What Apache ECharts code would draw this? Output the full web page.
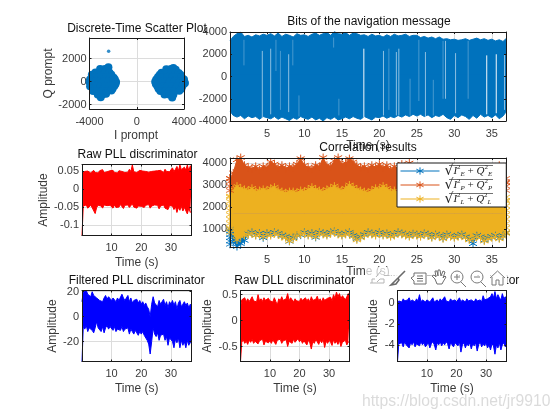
<!DOCTYPE html>
<html><head><meta charset="utf-8">
<style>html,body{margin:0;padding:0;background:#fff}#c{width:560px;height:420px}</style>
<script src="https://cdn.jsdelivr.net/npm/echarts@6/dist/echarts.min.js"></script>
</head><body><div id="c"></div>
<script>
const FONT='"Liberation Sans",Arial,sans-serif';
const tWide=[0.07,0.5,1,1.5,2,2.5,3,3.5,4,4.5,
5,5.5,6,6.5,7,7.5,8,8.5,9,9.5,
10,10.5,11,11.5,12,12.5,13,13.5,14,14.5,
15,15.5,16,16.5,17,17.5,18,18.5,19,19.5,
20,20.5,21,21.5,22,22.5,23,23.5,24,24.5,
25,25.5,26,26.5,27,27.5,28,28.5,29,29.5,
30,30.5,31,31.5,32,32.5,33,33.5,34,34.5,
35,35.5,36,36.5,36.9];

const bitsUp=[3200,3600,3850,4000,3600,3700,3550,3750,3650,3800,
3700,3850,3650,3900,3600,3800,3700,3550,3850,3700,
3750,3600,3800,3900,3700,3850,3950,3700,4050,3850,
3800,3950,3700,3900,3850,3700,3750,3600,3800,3650,
3700,3550,3750,3600,3800,3650,3700,3800,3600,3700,
3700,3500,3600,3450,3550,3400,3550,3350,3400,3300,
3350,3250,3300,3400,3250,3350,3450,3300,3400,3250,
3350,3200,3300,3150,3400];
const bitsLo=[-3100,-3500,-3650,-3500,-3800,-3550,-3700,-3600,-3850,-3600,
-3700,-3800,-3600,-3850,-3650,-3800,-3950,-3700,-3850,-3600,
-3750,-3850,-3650,-3900,-3750,-4000,-3700,-3850,-3650,-3900,
-3800,-3650,-3800,-3600,-3750,-3850,-3600,-3750,-3900,-3650,
-3700,-3550,-3750,-3600,-3700,-3500,-3650,-3450,-3600,-3400,
-3550,-3400,-3600,-3450,-3700,-3500,-3600,-3400,-3700,-3850,
-3500,-3700,-3450,-3600,-3850,-3500,-3750,-3400,-3650,-3500,
-3700,-3450,-3800,-3550,-3200];
// light vertical gaps in the bit trace: time, top, bottom
const gapStrong=[[17.93,2500,-3700],[34.33,1900,-3400],[35.6,2000,-3300]];
const gapLight=[[4.38,2300,-3800],[5.5,2500,-3400],[7.9,2000,-3200],[20.55,2300,-3500],[22.27,2200,-3500],[22.6,2500,-3500],[26.15,2200,-3600],[28.83,3200,-2000],[30.17,2100,-3300],[36.7,2000,-3000]];
const gapFaint=[[1.93,3300,1000],[6.2,3300,500],[6.8,2300,-3000],[8.45,3300,1000],[9.27,-1700,-3600],[13.9,3500,2600],[14.6,-2000,-3500],[21.27,2500,-3000],[24.1,-200,-3500],[25.27,3300,-2200],[27.2,-300,-3500],[28.5,3200,-2000],[31.85,3200,-2000]];

const orangeUp=[3300,3550,4150,4250,3900,3800,3750,3850,3700,3850,
3800,4050,3950,3800,3900,3750,3850,3800,3950,4200,
3900,3800,3750,3900,3850,4250,3900,3850,4100,4250,
3950,4000,4200,4050,3900,3800,3850,3750,3900,3800,
3950,3800,3900,3700,3850,3750,3950,3800,4000,3750,
3700,3650,3700,3600,3650,3550,3600,3500,3600,3550,
3600,3500,3550,3600,3500,3550,3650,3550,3600,3500,
3700,3800,3900,3650,3100];
const yellowUp=[2500,2800,2950,2850,2800,2750,2850,2700,2750,2800,
2750,2850,2900,2750,2700,2650,2700,2700,2650,2750,
2700,2800,2900,2800,2750,2700,2800,2850,2950,2800,
2750,2850,3000,2900,2800,2750,2700,2650,2750,2850,
2800,2950,2850,2700,2750,2650,2600,2700,2650,2600,
2550,2600,2500,2550,2500,2450,2550,2500,2450,2500,
2450,2500,2550,2450,2400,2500,2450,2500,2400,2450,
2500,2450,2550,2500,2300];
const yellowLo=[1000,750,500,650,700,750,800,700,750,650,
750,700,800,750,650,600,450,550,700,750,
800,700,750,650,800,750,700,800,850,750,
700,750,800,650,500,600,700,800,750,700,
800,700,750,650,700,800,750,700,650,750,
700,650,750,700,600,700,650,550,700,650,
600,650,700,600,500,550,650,600,450,550,
600,650,550,650,800];
const blueLo=[1000,430,200,330,480,780,840,720,800,600,
800,760,840,790,700,650,440,600,700,720,
840,740,800,620,840,800,750,840,880,790,
740,790,840,700,560,640,740,840,790,740,
840,740,790,690,740,840,790,740,690,780,
740,690,790,740,640,740,690,590,740,690,
640,690,740,640,540,330,690,640,490,590,
640,690,590,690,820];
// start-of-trace and end-of-trace samples spreading past the plot frame
const edgeTimes=[0.07,36.9];
const edgeBlue=[300,450,600,750,900];
const edgeOrange=[2750,2950,3150,3300];
const edgeYellow=[850,1050,1250,1450,1650,1850,2050,2250,2450];

const pllUp=[.048,.052,.05,.047,.051,.049,.046,.05,.053,.047,
.05,.046,.052,.048,.055,.047,.051,.049,.046,.052,
.049,.053,.047,.05,.046,.052,.048,.05,.054,.047,
.051,.048,.056,.05,.068,.049,.052,.047,.05,.053,
.048,.051,.047,.05,.054,.048,.052,.05,.046,.051,
.049,.052,.048,.053,.05,.047,.056,.05,.054,.049,
.052,.06,.05,.056,.064,.052,.068,.055,.058,.062,
.054,.068,.052,.066,.058];
const pllLo=[-.128,-.046,-.05,-.043,-.052,-.047,-.044,-.051,-.048,-.067,
-.05,-.044,-.049,-.046,-.052,-.043,-.048,-.045,-.05,-.044,
-.047,-.052,-.043,-.05,-.045,-.049,-.042,-.047,-.053,-.044,
-.048,-.043,-.05,-.045,-.04,-.049,-.044,-.052,-.046,-.041,
-.047,-.043,-.05,-.044,-.048,-.042,-.052,-.046,-.05,-.043,
-.048,-.044,-.054,-.046,-.05,-.043,-.052,-.047,-.056,-.045,
-.05,-.046,-.056,-.048,-.064,-.05,-.058,-.047,-.06,-.05,
-.055,-.068,-.052,-.064,-.06];
const fpllUp=[12,20,19,21,18,19,16,20,17,18,
15,16,13,14,12,15,17,14,16,15,
13,15,14,12,15,13,14,18,15,13,
14,17,12,15,11,13,12,14,11,13,
10,12,9,11,8,6,0,10,16,11,
12,8,13,10,11,14,9,12,7,12,
10,13,9,12,6,11,13,8,10,12,
9,11,7,10,8];
const fpllLo=[-36,-8,-10,-7,-12,-9,-8,-11,-13,-9,
-4,-9,-10,-12,-8,-13,-9,-7,-10,-8,
-9,-11,-8,-12,-10,-9,-11,-8,-12,-10,
-11,-9,-14,-10,-12,-14,-11,-13,-15,-12,
-14,-12,-15,-14,-19,-22,-30,-20,-9,-14,
-16,-13,-19,-15,-16,-14,-19,-16,-23,-17,
-16,-20,-25,-18,-21,-17,-25,-19,-23,-20,
-25,-19,-23,-20,-22];
const dllUp=[.25,.4,.38,.44,.36,.42,.37,.41,.46,.38,
.4,.36,.5,.38,.42,.37,.44,.39,.36,.43,
.38,.41,.36,.44,.37,.3,.42,.38,.46,.39,
.36,.42,.52,.38,.44,.4,.36,.42,.38,.41,
.37,.43,.39,.36,.44,.38,.42,.36,.46,.39,
.37,.41,.47,.38,.42,.36,.44,.39,.37,.43,
.4,.45,.38,.5,.43,.55,.46,.52,.42,.48,
.5,.4,.46,.52,.48];
const dllLo=[-.79,-.42,-.37,-.44,-.4,-.46,-.38,-.42,-.36,-.44,
-.4,-.37,-.45,-.39,-.42,-.36,-.47,-.4,-.38,-.43,
-.39,-.44,-.37,-.42,-.46,-.38,-.41,-.36,-.44,-.39,
-.42,-.37,-.5,-.4,-.38,-.44,-.36,-.42,-.39,-.35,
-.41,-.37,-.44,-.39,-.42,-.47,-.38,-.43,-.55,-.4,
-.44,-.37,-.41,-.46,-.38,-.43,-.36,-.52,-.4,-.44,
-.38,-.42,-.48,-.37,-.44,-.4,-.46,-.38,-.5,-.42,
-.44,-.38,-.47,-.41,-.43];
const fdllUp=[-.3,.2,.3,.1,.4,.2,.1,.3,.5,.1,
.3,.2,.1,.4,.2,.8,.1,.3,.2,.1,
.3,.4,.1,.2,.5,.1,.2,.3,.1,.4,
.2,.1,.6,.2,.3,.1,.4,.2,.1,.3,
.1,.2,.5,.1,.3,.2,.1,.4,.2,.1,
.3,.2,.1,.4,.2,.1,.3,.1,.7,.3,
.2,.4,.3,.6,.9,.5,1.1,.4,.8,.5,
.3,.9,.4,.6,.2];
const fdllLo=[-5.6,-3.9,-4,-3.8,-4.2,-3.7,-4,-3.9,-4.3,-3.8,
-4,-3.7,-4.2,-3.9,-3.8,-4.1,-3.7,-4,-3.8,-4.2,
-4,-3.8,-4.3,-3.9,-3.7,-4,-4.5,-3.8,-4,-3.7,
-4.1,-3.8,-4,-3.7,-3.9,-4.4,-3.8,-4,-4.2,-3.8,
-3.9,-4.1,-3.7,-4.7,-4,-3.8,-4.3,-3.9,-4.1,-3.8,
-4.4,-3.9,-4.1,-3.8,-4.6,-4,-3.7,-4.2,-3.9,-4.1,
-3.8,-4.3,-4,-4.5,-3.9,-4.1,-4.9,-4,-4.3,-3.8,
-4.5,-4,-3.8,-4.2,-3.9];

const scatterLeft=[[-3100,1100],[-2700,1100],[-2500,1050],[-2400,1250],
[-3500,800],[-3100,800],[-2700,800],[-2300,780],
[-3800,600],[-2150,600],
[-3800,400],[-3400,400],[-3000,400],[-2600,400],[-2200,420],[-1950,350],
[-3950,200],[-1850,200],
[-4000,0],[-3600,0],[-3200,0],[-2800,0],[-2400,0],[-2000,0],[-1750,-20],
[-3900,-200],[-1800,-200],
[-3950,-400],[-3500,-400],[-3100,-400],[-2700,-400],[-2300,-400],[-1900,-380],
[-3650,-600],[-2050,-600],
[-3700,-800],[-3300,-800],[-2900,-800],[-2500,-800],[-2150,-760],
[-3300,-1100],[-2900,-1100],[-2600,-1050],[-3050,-1350]];
const scatterRight=[[2500,1080],[2900,1100],[3100,1200],[3300,1050],
[2100,780],[2500,800],[2900,800],[3300,800],[3550,760],
[1950,600],[3700,600],
[1800,400],[2200,400],[2600,400],[3000,400],[3400,400],[3800,380],
[1650,200],[4000,200],
[1560,0],[2000,0],[2400,0],[2800,0],[3200,0],[3600,0],[3950,-20],[4080,-110],
[1620,-200],[3980,-200],
[1750,-400],[2200,-400],[2600,-400],[3000,-400],[3400,-400],[3850,-400],
[1850,-600],[3780,-600],
[2000,-800],[2400,-800],[2800,-800],[3200,-800],[3600,-780],
[2350,-1100],[2750,-1120],[3100,-1100],[3000,-1380]];
const scatterOutlier=[[-2380,2640]];

const xTicksWide=[5,10,15,20,25,30,35];
const xTicksNarrow=[10,20,30];

const panels=[
 {box:[89.5,38,184,109],xr:[-4000,4000],yr:[-2370,3800],xt:[-4000,0,4000],yt:[-2000,0,2000],title:'Discrete-Time Scatter Plot',tc:[137,29],xn:'I prompt',yn:'Q prompt',xnY:136,ynX:49},
 {box:[230,32,506,121],xr:[0.07,36.9],yr:[-4000,4000],xt:xTicksWide,yt:[-4000,-2000,0,2000,4000],title:'Bits of the navigation message',tc:[369,22],xn:'Time (s)',xnY:146},
 {box:[82,164.5,191.5,235.5],xr:[0.07,36.9],yr:[-0.128,0.0693],xt:xTicksNarrow,yt:[-0.1,-0.05,0,0.05],title:'Raw PLL discriminator',tc:[137.5,155],xn:'Time (s)',yn:'Amplitude',xnY:263,ynX:44},
 {box:[230,158,506,247],xr:[0.07,36.9],yr:[180,4230],xt:xTicksWide,yt:[1000,2000,3000,4000],title:'Correlation results',tc:[368,148],xn:'Time (s)',xnY:272},
 {box:[82,290.5,191.5,361.5],xr:[0.07,36.9],yr:[-36,21],xt:xTicksNarrow,yt:[-20,0,20],title:'Filtered PLL discriminator',tc:[136.7,281],xn:'Time (s)',yn:'Amplitude',xnY:389,ynX:53},
 {box:[240.5,290.5,349.5,361.5],xr:[0.07,36.9],yr:[-0.79,0.58],xt:xTicksNarrow,yt:[-0.5,0,0.5],title:'Raw DLL discriminator',tc:[294.7,281],xn:'Time (s)',yn:'Amplitude',xnY:389,ynX:208},
 {box:[397.5,290.5,506.5,361.5],xr:[0.07,36.9],yr:[-5.6,1.2],xt:xTicksNarrow,yt:[-4,-2,0],title:'Filtered DLL discriminator',tc:[451,281],xn:'Time (s)',yn:'Amplitude',xnY:389,ynX:374}
];
const TXT='#3a3a3a', EDGE='#1a1a1a', GRID='#dcdcdc';
const zip=(t,v)=>t.map((x,i)=>[x,v[i]]);
const grid=[],xAxis=[],yAxis=[],title=[],series=[];
panels.forEach((p,i)=>{
 const [l,t,r,b]=p.box;
 grid.push({left:l,top:t,width:r-l,height:b-t,show:false,containLabel:false});
 const tick=(vals)=>({show:true,inside:true,length:2,customValues:vals,lineStyle:{color:EDGE,width:1}});
 const off={show:false};
 const lbl=(vals,m)=>({show:true,customValues:vals,color:TXT,fontSize:11,fontFamily:FONT,margin:m,hideOverlap:false,formatter:v=>String(v)});
 xAxis.push({type:'value',gridIndex:i,min:p.xr[0],max:p.xr[1],position:'bottom',
   axisLine:off,axisTick:{show:false,customValues:p.xt},axisLabel:lbl(p.xt,7),
   splitLine:{show:true,lineStyle:{color:GRID,width:1}},z:0});
 yAxis.push({type:'value',gridIndex:i,min:p.yr[0],max:p.yr[1],position:'left',
   axisLine:off,axisTick:{show:false,customValues:p.yt},axisLabel:lbl(p.yt,3),
   splitLine:{show:true,lineStyle:{color:GRID,width:1}},z:0});
 ['bottom','top'].forEach(pos=>xAxis.push({type:'value',gridIndex:i,min:p.xr[0],max:p.xr[1],position:pos,
   axisLine:{show:true,onZero:false,lineStyle:{color:EDGE,width:1}},axisTick:tick(p.xt),axisLabel:off,splitLine:off,z:6}));
 ['left','right'].forEach(pos=>yAxis.push({type:'value',gridIndex:i,min:p.yr[0],max:p.yr[1],position:pos,
   axisLine:{show:true,onZero:false,lineStyle:{color:EDGE,width:1}},axisTick:tick(p.yt),axisLabel:off,splitLine:off,z:6}));
 title.push({text:p.title,left:p.tc[0],top:p.tc[1],textAlign:'center',textVerticalAlign:'middle',padding:0,
   textStyle:{color:'#111',fontSize:12,fontWeight:'normal',fontFamily:FONT},z:1});
 title.push({text:p.xn,left:i===0?136:(l+r)/2,top:p.xnY,textAlign:'center',textVerticalAlign:'middle',padding:0,
   textStyle:{color:TXT,fontSize:12,fontWeight:'normal',fontFamily:FONT},z:1});
});
const IDX=i=>({xAxisIndex:i*3,yAxisIndex:i*3});
function band(i,name,t,v,color,origin,extra){
 series.push(Object.assign({type:'line',name,data:zip(t,v),...IDX(i),showSymbol:false,symbol:'none',
  lineStyle:{color,width:1},itemStyle:{color},areaStyle:{color,opacity:1,origin},
  animation:false,emphasis:{disabled:true},silent:true,z:2},extra||{}));
}
[scatterLeft,scatterRight].forEach(d=>series.push({type:'scatter',data:d,...IDX(0),symbolSize:8,clip:false,
  itemStyle:{color:'#0072BD',opacity:1},animation:false,silent:true,z:2}));
series.push({type:'scatter',data:scatterOutlier,...IDX(0),symbolSize:3.5,itemStyle:{color:'#0072BD'},animation:false,silent:true,z:2});
band(1,'bits up',tWide,bitsUp,'#0072BD',-200);
band(1,'bits low',tWide,bitsLo,'#0072BD',200);
[[gapStrong,.95],[gapLight,.55],[gapFaint,.28]].forEach(([g,a])=>{
 const d=[];g.forEach(s=>{d.push([s[0],s[1]],[s[0],s[2]],[s[0],'-']);});
 series.push({type:'line',data:d,...IDX(1),showSymbol:false,symbol:'none',connectNulls:false,
  lineStyle:{color:'#fff',width:1,opacity:a},animation:false,silent:true,z:3});
});
band(2,'pll up',tWide,pllUp,'#FF0000',-.01);
band(2,'pll low',tWide,pllLo,'#FF0000',.01);
band(4,'fpll up',tWide,fpllUp,'#0000FF',-3.2);
band(4,'fpll low',tWide,fpllLo,'#0000FF',-2);
band(5,'dll up',tWide,dllUp,'#FF0000',-.05);
band(5,'dll low',tWide,dllLo,'#FF0000',.05);
band(6,'fdll up',tWide,fdllUp,'#0000FF',-2);
band(6,'fdll low',tWide,fdllLo,'#0000FF',-1);
const AST='path://M5 0L5 10M0.67 2.5L9.33 7.5M0.67 7.5L9.33 2.5';
const mk=c=>({showSymbol:true,showAllSymbol:true,symbol:AST,symbolSize:8,clip:false,
  itemStyle:{color:c,borderColor:c,borderWidth:1}});
const nE='sqrt(I_E^2+Q_E^2)',nP='sqrt(I_P^2+Q_P^2)',nL='sqrt(I_L^2+Q_L^2)';
const edge=(name,vals,times,c)=>{const d=[];times.forEach(t=>vals.forEach(v=>d.push([t,v])));
 series.push({type:'scatter',name,data:d,...IDX(3),symbol:AST,symbolSize:8,clip:false,itemStyle:{color:c,borderColor:c,borderWidth:1},animation:false,silent:true,z:2});};
band(3,nE,tWide,blueLo,'#0072BD',1700,mk('#0072BD'));
band(3,nP,tWide,orangeUp,'#D95319',1700,mk('#D95319'));
band(3,nL,tWide,yellowUp,'#EDB120',1700,mk('#EDB120'));
band(3,nL,tWide,yellowLo,'#EDB120',1700,mk('#EDB120'));
edge(nE,edgeBlue,[edgeTimes[0]],'#0072BD');
edge(nP,edgeOrange,edgeTimes,'#D95319');
edge(nL,edgeYellow,edgeTimes,'#EDB120');

const fmtLegend=n=>{const s=n.charAt(7);return `{r|√}{v|I}{p|2}{b|${s}}{o| + }{v|Q}{p|2}{b|${s}}`;};
const legend={show:true,data:[nE,nP,nL],orient:'vertical',left:397,top:163,padding:[1,14,1,3],itemWidth:39,itemHeight:9,itemGap:0,
 backgroundColor:'#fff',borderColor:EDGE,borderWidth:1,z:10,selectedMode:false,
 lineStyle:{width:1},itemStyle:{borderWidth:1},
 formatter:fmtLegend,
 textStyle:{fontFamily:'"Liberation Serif",serif',color:'#222',fontSize:11,lineHeight:14,rich:{
  r:{fontSize:14,fontFamily:'"DejaVu Sans"',color:'#222',lineHeight:14},
  v:{fontSize:11,fontStyle:'italic',fontFamily:'"Liberation Serif",serif',color:'#222',lineHeight:14},
  p:{fontSize:7,fontFamily:'"Liberation Serif",serif',color:'#222',verticalAlign:'top',lineHeight:14},
  b:{fontSize:7,fontStyle:'italic',fontFamily:'"Liberation Serif",serif',color:'#222',verticalAlign:'bottom',lineHeight:14},
  o:{fontSize:11,fontFamily:'"Liberation Serif",serif',color:'#222',lineHeight:14}}}};

const G=[];
[165.5,179.5,193.5].forEach(y=>G.push({type:'line',shape:{x1:449,y1:y,x2:493,y2:y},style:{stroke:'#333',lineWidth:.7},z:20,silent:true}));
panels.forEach(p=>{ if(p.yn) G.push({type:'text',x:p.ynX,y:(p.box[1]+p.box[3])/2,rotation:Math.PI/2,z:1,silent:true,
  style:{text:p.yn,fill:TXT,font:'12px '+FONT,textAlign:'center',textVerticalAlign:'middle'}}); });
G.push({type:'rect',shape:{x:366,y:267,width:141,height:9},style:{fill:'rgba(255,255,255,.72)'},z:15,silent:true});
G.push({type:'rect',shape:{x:366,y:276,width:141,height:14},style:{fill:'#fff'},z:15,silent:true});
const pl=(x,y,pts,stroke,lw)=>G.push({type:'polyline',x,y,shape:{points:pts},style:{fill:null,stroke,lineWidth:lw||1},z:16,silent:true});
const ci=(x,y,r,stroke)=>G.push({type:'circle',shape:{cx:x,cy:y,r},style:{fill:null,stroke,lineWidth:1},z:16,silent:true});
pl(369,269,[[1,14],[15,14],[15,10],[11,10],[8,13]],'#b5b5b5');pl(369,269,[[3,14],[3,10],[6,10]],'#b5b5b5');pl(369,269,[[7,8],[12,2]],'#b5b5b5');
pl(390,270,[[15,1],[8,8]],'#6a6a6a',1.6);pl(390,270,[[8,8],[5,11],[1,15],[6,14],[9,10],[8,8]],'#6a6a6a',1.6);
pl(411,272,[[3,1],[15,1],[15,12],[3,12],[3,9],[0,6],[3,4],[3,1]],'#6e6e6e');pl(411,272,[[6,4],[12,4]],'#6e6e6e');pl(411,272,[[6,6.5],[12,6.5]],'#6e6e6e');pl(411,272,[[6,9],[12,9]],'#6e6e6e');
pl(431,269,[[4,10],[1,7],[3,6],[5,8],[4,2],[6,2],[7,7],[7,1],[9,1],[10,7],[12,2],[14,3],[12,9],[14,7],[15,8],[12,13],[11,15],[6,15],[4,10]],'#6e6e6e');
ci(457,277,6,'#7a7a7a');pl(0,0,[[461,282],[466,287]],'#7a7a7a');pl(0,0,[[454,277],[460,277]],'#7a7a7a');pl(0,0,[[457,274],[457,280]],'#7a7a7a');
ci(477,277,6,'#7a7a7a');pl(0,0,[[481,282],[486,287]],'#7a7a7a');pl(0,0,[[474,277],[480,277]],'#7a7a7a');
pl(490,270,[[0,8],[7.5,1],[15,8]],'#7a7a7a');pl(490,270,[[2,7],[2,15],[6,15],[6,10],[9,10],[9,15],[13,15],[13,7]],'#7a7a7a');
G.push({type:'text',x:362,y:402,z:30,silent:true,style:{text:'https://blog.csdn.net/jr9910',fill:'rgba(170,170,170,.42)',font:'15.7px '+FONT,textVerticalAlign:'middle'}});

const chart=echarts.init(document.getElementById('c'),null,{renderer:'canvas'});
chart.setOption({animation:false,backgroundColor:'#fff',title,grid,xAxis,yAxis,series,legend,graphic:{elements:G},tooltip:{show:false}});
</script></body></html>
